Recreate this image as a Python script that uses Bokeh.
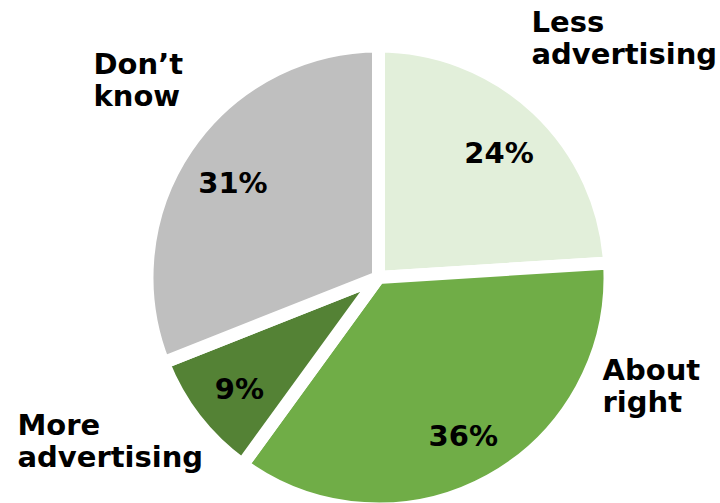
import math
from bokeh.plotting import figure
from bokeh.models import Range1d, ColumnDataSource
from bokeh.core.properties import value
from bokeh.embed import file_html
from bokeh.resources import INLINE

# ---- data ----
categories = ["Less advertising", "About right", "More advertising", "Don’t know"]
shares = [24, 36, 9, 31]
colors = ["#E2EFDA", "#70AD47", "#548235", "#BFBFBF"]
label_lines = [["Less", "advertising"], ["About", "right"], ["More", "advertising"], ["Don’t", "know"]]

# ---- layout ----
W, H = 720, 503
cx, cy = 378, 226          # pie centre (data units == pixels)
R = 225                    # visible radius in px
gap = 13                   # white separator width
label_anchor = [(531, 482), (602, 134), (17, 79), (93, 440)]  # first line baseline
line_step = 32
pct_r = 176
pct_dy = -4
FONT = "DejaVu Sans"

p = figure(width=W, height=H, output_backend="svg", toolbar_location=None,
           x_range=Range1d(0, W), y_range=Range1d(0, H), min_border=0,
           outline_line_color=None)
p.axis.visible = False
p.grid.visible = False
p.background_fill_color = "white"
p.border_fill_color = "white"

total = sum(shares)
starts, ends, mids = [], [], []
acc = 0
for s in shares:
    a0 = math.pi / 2 - 2 * math.pi * acc / total
    acc += s
    a1 = math.pi / 2 - 2 * math.pi * acc / total
    starts.append(a0)
    ends.append(a1)
    mids.append((a0 + a1) / 2)

src = ColumnDataSource(dict(x=[cx] * len(shares), y=[cy] * len(shares),
                            start=starts, end=ends, color=colors))
p.wedge(x="x", y="y", radius=R + gap / 2, radius_units="screen",
        start_angle="start", end_angle="end", direction="clock",
        fill_color="color", line_color="white", line_width=gap, source=src)

# percentage labels
px = [cx + pct_r * math.cos(m) for m in mids]
py = [cy + pct_r * math.sin(m) + pct_dy for m in mids]
p.text(x=px, y=py, text=[f"{s}%" for s in shares], text_align="center",
       text_baseline="middle", text_font=value(FONT), text_font_style="bold",
       text_font_size="29px", text_color="black")

# category labels
lx, ly, lt = [], [], []
for (ax, ay), lines in zip(label_anchor, label_lines):
    for i, t in enumerate(lines):
        lx.append(ax)
        ly.append(ay - i * line_step)
        lt.append(t)
p.text(x=lx, y=ly, text=lt, text_align="left", text_baseline="alphabetic",
       text_font=value(FONT), text_font_style="bold", text_font_size="29px",
       text_color="black")

open("out.html", "w").write(file_html(p, INLINE))
